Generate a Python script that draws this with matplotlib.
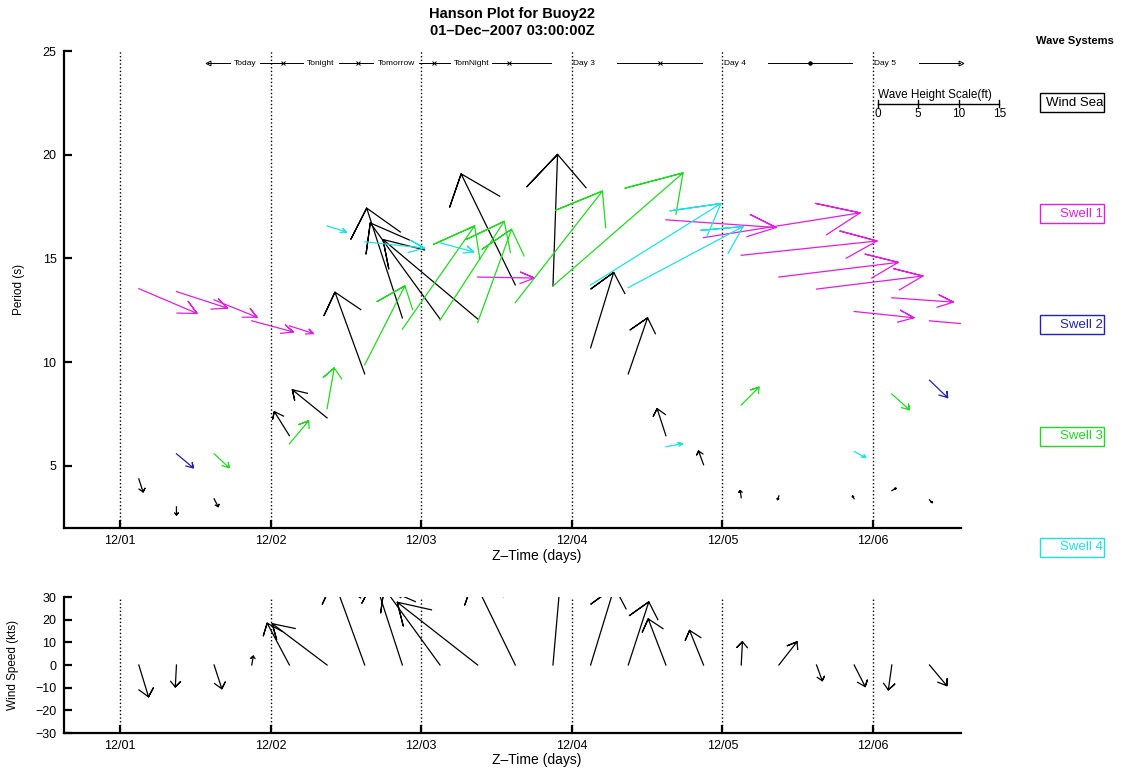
import matplotlib

matplotlib.use("agg")
from matplotlib import pyplot as plt
from matplotlib.patches import Rectangle
import numpy as np

plt.rcParams["font.family"] = ["Liberation Sans", "DejaVu Sans"]

# --- values (time = day of Dec 2007, 6-hourly from 03Z) ---
day_ticks = [1, 2, 3, 4, 5, 6]
day_labels = ["12/01", "12/02", "12/03", "12/04", "12/05", "12/06"]

# wind sea: period (s), height (ft), direction (deg, 0 = up on the plot)
ws_time = [1.125, 1.375, 1.625, 2.125, 2.375, 2.625, 2.875, 3.125, 3.375, 3.625,
           3.875, 4.125, 4.375, 4.625, 4.875, 5.125, 5.375, 5.875, 6.125, 6.375]
ws_per = [4.37, 3.02, 3.41, 6.45, 7.31, 9.43, 12.13, 12.08, 12.08, 13.72,
          13.67, 10.69, 9.43, 6.45, 5.05, 3.46, 3.55, 3.41, 3.80, 3.36]
ws_hgt = [1.7, 1.0, 1.1, 3.5, 5.5, 10.7, 14.2, 14.6, 15.2, 15.2,
          16.2, 9.7, 7.3, 3.5, 1.8, 0.9, 0.5, 0.4, 0.6, 0.5]
ws_dir = [162, 180, 153, 328, 309, 340, 342, 324, 310, 334,
          2, 17, 19, 342, 340, 352, 200, 330, 60, 135]

s1_time = [1.125, 1.375, 1.625, 1.875, 2.125, 3.375, 4.625, 4.875, 5.125, 5.375,
           5.625, 5.875, 6.125, 6.375]
s1_per = [13.54, 13.40, 13.00, 11.99, 11.75, 14.10, 16.86, 16.00, 15.15, 14.10,
          13.52, 12.44, 13.10, 11.99]
s1_hgt = [7.8, 6.6, 5.7, 5.3, 3.1, 7.0, 13.6, 19.5, 16.8, 14.8, 13.2, 7.4, 7.6, 6.8]
s1_dir = [113, 108, 112, 105, 108, 91, 94, 81, 84, 83, 83, 96, 94, 95]

s2_time = [1.375, 6.375]
s2_per = [5.58, 9.13]
s2_hgt = [2.7, 3.1]
s2_dir = [130, 134]

s3_time = [1.625, 2.125, 2.375, 2.625, 2.875, 3.125, 3.375, 3.625, 3.875, 5.125, 6.125]
s3_per = [5.58, 6.06, 7.75, 9.87, 11.59, 12.02, 11.91, 12.87, 13.67, 7.93, 8.46]
s3_hgt = [2.5, 3.7, 5.1, 10.9, 15.5, 14.5, 12.2, 17.4, 21.2, 3.1, 2.9]
s3_dir = [133, 40, 10, 27, 35, 33, 20, 38, 49, 45, 132]

s4_time = [2.375, 2.625, 3.125, 4.125, 4.375, 4.625, 5.875]
s4_per = [16.57, 15.80, 15.75, 13.72, 13.59, 5.92, 5.69]
s4_hgt = [2.5, 7.4, 4.3, 18.9, 16.0, 2.1, 1.6]
s4_dir = [108, 96, 105, 58, 62, 80, 118]

# wind: speed (kts), direction (deg)
wind_time = [1.125, 1.375, 1.625, 1.875, 2.125, 2.375, 2.625, 2.875, 3.125, 3.375, 3.625,
             3.875, 4.125, 4.375, 4.625, 4.875, 5.125, 5.375, 5.625, 5.875, 6.125, 6.375]
wind_spd = [14.7, 9.7, 11.0, 4.0, 20.9, 30.3, 40, 40, 42, 45, 42,
            45, 36, 29.3, 21.8, 16.5, 10.3, 13.0, 7.4, 10.7, 11.1, 11.9]
wind_dir = [163, 183, 162, 10, 332, 307, 340, 342, 324, 308, 334,
            5, 17, 18, 339, 338, 3, 38, 160, 153, 188, 140]

sys_names = ["Wind Sea", "Swell 1", "Swell 2", "Swell 3", "Swell 4"]
sys_colors = ["black", "#e01ee0", "#2222b0", "#22d822", "#1ee2e2"]

# forecast periods across the top
tl_edges = [1.583, 2.083, 2.583, 3.083, 3.583, 4.583, 5.583, 6.583]
tl_labels = ["Today", "Tonight", "Tomorrow", "TomNight", "Day 3", "Day 4", "Day 5"]
tl_gap = [0.10, 0.12, 0.15, 0.14, 0.22, 0.22, 0.22]
tl_marks = ["<", "x", "x", "x", "x", "x", "o", ">"]

scale_ticks = [0, 5, 10, 15]

# drawing constants
FT_PX = 8.13    # pixels per foot of wave height
KT_PX = 2.267   # pixels per knot of wind
ALPHA, BETA, XSTR = 0.25, 0.6, 1.5   # arrow head shape

W, H = 1146, 768
fig = plt.figure(figsize=(W / 100, H / 100), dpi=100)
ax = fig.add_axes([63.5 / W, 1 - 528 / H, 897.3 / W, 477 / H])
axw = fig.add_axes([63.5 / W, 1 - 733 / H, 897.3 / W, 136 / H])


def style_axes(a, ylim, yticks):
    a.set_xlim(0.625, 6.583)
    a.set_ylim(*ylim)
    a.set_xticks(day_ticks)
    a.set_xticklabels(day_labels)
    a.set_yticks(yticks)
    for s in ("top", "right"):
        a.spines[s].set_visible(False)
    for s in ("left", "bottom"):
        a.spines[s].set_linewidth(1.6)
    a.tick_params(direction="in", length=6, width=1.6, labelsize=9, pad=5)
    for d in day_ticks:
        a.axvline(d, color="k", ls=":", lw=1.0)


def arrows(a, t, y, mag, dirn, px_per_unit, color):
    fwd = a.transData.transform
    inv = a.transData.inverted().transform
    for ti, yi, m, d in zip(t, y, mag, dirn):
        L = m * px_per_unit
        dx, dy = L * np.sin(np.radians(d)), L * np.cos(np.radians(d))
        x0, y0 = fwd((ti, yi))
        tx, ty = x0 + dx, y0 + dy
        u, v = dx / XSTR, dy
        b1 = (tx - ALPHA * (u + BETA * v) * XSTR, ty - ALPHA * (v - BETA * u))
        b2 = (tx - ALPHA * (u - BETA * v) * XSTR, ty - ALPHA * (v + BETA * u))
        pts = inv([(x0, y0), (tx, ty), b1, (tx, ty), b2])
        a.plot(pts[:, 0], pts[:, 1], color=color, lw=0.9)


style_axes(ax, (2, 25), [5, 10, 15, 20, 25])
style_axes(axw, (-30, 30), [-30, -20, -10, 0, 10, 20, 30])

ax.set_ylabel("Period (s)", fontsize=8.5)
ax.yaxis.set_label_coords(-0.043, 0.5)
ax.set_xlabel("Z\u2013Time (days)", fontsize=10)
ax.xaxis.set_label_coords(0.527, -0.044)
axw.set_ylabel("Wind Speed (kts)", fontsize=8.5)
axw.yaxis.set_label_coords(-0.05, 0.5)
axw.set_xlabel("Z\u2013Time (days)", fontsize=10)
axw.xaxis.set_label_coords(0.527, -0.145)

series = [(ws_time, ws_per, ws_hgt, ws_dir), (s1_time, s1_per, s1_hgt, s1_dir),
          (s2_time, s2_per, s2_hgt, s2_dir), (s3_time, s3_per, s3_hgt, s3_dir),
          (s4_time, s4_per, s4_hgt, s4_dir)]
for (t, p, h, d), col in zip(series, sys_colors):
    arrows(ax, t, p, h, d, FT_PX, col)

arrows(axw, wind_time, np.zeros(len(wind_time)), wind_spd, wind_dir, KT_PX, "black")

# forecast period strip
tl_y = 24.42
for i, lab in enumerate(tl_labels):
    a, b = tl_edges[i], tl_edges[i + 1]
    c, g = (a + b) / 2, tl_gap[i]
    ax.plot([a, c - g], [tl_y, tl_y], color="k", lw=0.7)
    ax.plot([c + g, b], [tl_y, tl_y], color="k", lw=0.7)
    ax.text(c, tl_y, lab, fontsize=6, ha="center", va="center")
for x, mk in zip(tl_edges, tl_marks):
    ax.plot(x, tl_y, marker=mk, color="k", ms=2.5 if mk == "o" else 3.5, mew=0.7,
            fillstyle="none" if mk != "o" else "full", clip_on=False)

# wave height scale bar
fwd = ax.transData.transform
inv = ax.transData.inverted().transform
bx, by = fwd((6.03, 22.45))
bar = inv([(bx, by), (bx + scale_ticks[-1] * FT_PX, by)])
ax.plot(bar[:, 0], bar[:, 1], color="k", lw=1.0, clip_on=False)
for s in scale_ticks:
    tk = inv([(bx + s * FT_PX, by - 3.5), (bx + s * FT_PX, by + 3.5)])
    ax.plot(tk[:, 0], tk[:, 1], color="k", lw=1.0, clip_on=False)
    lx, ly = inv([(bx + s * FT_PX, by - 10)])[0]
    ax.text(lx, ly, str(s), fontsize=8.5, ha="center", va="center", clip_on=False)
tx, ty = inv([(bx, by + 9)])[0]
ax.text(tx, ty, "Wave Height Scale(ft)", fontsize=8.5, ha="left", va="center")

# titles and wave-system key
fig.text(512 / W, 1 - 14 / H, "Hanson Plot for Buoy22", ha="center", va="center",
         fontsize=10.5, weight="bold")
fig.text(512 / W, 1 - 31 / H, "01\u2013Dec\u20132007 03:00:00Z", ha="center", va="center",
         fontsize=10.5, weight="bold")
fig.text(1075 / W, 1 - 41 / H, "Wave Systems", ha="center", va="center",
         fontsize=8, weight="bold")
for i, (name, col) in enumerate(zip(sys_names, sys_colors)):
    yc = 1 - (102.5 + 111.2 * i) / H
    fig.add_artist(Rectangle((1040 / W, yc - 9.5 / H), 64 / W, 19 / H,
                             transform=fig.transFigure, fill=False, ec=col, lw=1.0))
    fig.text(1103 / W, yc, name, color=col, ha="right", va="center", fontsize=9.5)

fig.savefig("out.png", dpi=100)
